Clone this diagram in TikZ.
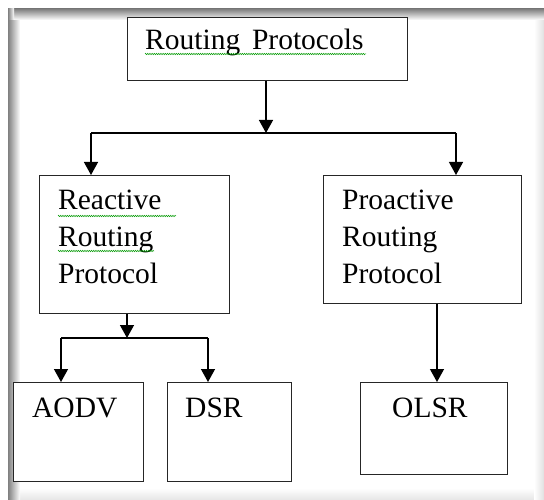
\documentclass[tikz,border=0pt]{standalone}
\usepackage{fontspec}
\setmainfont{Liberation Serif}
\newfontfamily\boxfont{Liberation Serif}
\usetikzlibrary{arrows.meta,decorations.pathmorphing}
\begin{document}
\begin{tikzpicture}[x=1pt,y=-1pt,
  box/.style={draw=black!85, line width=1.2pt, fill=white, inner sep=0pt, anchor=north west},
  lbl/.style={anchor=base west, inner sep=0pt, font=\boxfont\fontsize{29.5}{34}\selectfont},
  link/.style={line width=1.3pt},
  arr/.style={link, -{Triangle[length=13pt,width=14pt]}},
  squiggle/.style={draw=green!60!black, line width=0.5pt, decorate,
    decoration={zigzag, segment length=2.2pt, amplitude=0.7pt}}]

\useasboundingbox (0,0) rectangle (544,500);

% page with soft shadow on its edges
\shade[top color=white, bottom color=black!10] (8,488) rectangle (544,500);
\shade[left color=white, right color=black!12] (534,9) rectangle (544,500);
\shade[left color=black!50, right color=white] (8,9) rectangle (20,500);
\shade[top color=black!50, bottom color=white] (14,9) rectangle (544,20);
\shade[left color=black!50, right color=white] (8,9) rectangle (14,20);

% boxes
\node[box, minimum width=280pt, minimum height=63pt]  (top)       at (127,17)  {};
\node[box, minimum width=190pt, minimum height=138pt] (reactive)  at (39,175)  {};
\node[box, minimum width=198pt, minimum height=128pt] (proactive) at (323,175) {};
\node[box, minimum width=130pt, minimum height=99pt]  (aodv)      at (13,382)  {};
\node[box, minimum width=124pt, minimum height=99pt]  (dsr)       at (167,382) {};
\node[box, minimum width=147pt, minimum height=92pt]  (olsr)      at (360,382) {};

% labels
\node[lbl] (tRP)  at (145,50)  {Routing\hspace{0.4em}Protocols};
\node[lbl] (r1)   at (58,210)  {Reactive};
\node[lbl] (r2)   at (58,247)  {Routing};
\node[lbl] (r3)   at (58,283)  {Protocol};
\node[lbl] (p1)   at (342,210) {Proactive};
\node[lbl] (p2)   at (342,247) {Routing};
\node[lbl] (p3)   at (342,283) {Protocol};
\node[lbl] (tA)   at (32,417)  {AODV};
\node[lbl] (tD)   at (185,417) {DSR};
\node[lbl] (tO)   at (392,417) {OLSR};

% spell-check underlines
\draw[squiggle] (tRP.base west) ++(0,4) -- ++(221,0);
\draw[squiggle] (r1.base west) ++(0,6) -- ++(118,0);
\draw[squiggle] (r2.base west) ++(0,4) -- ++(96,0);

% branching connectors
\coordinate (split) at (266,133);
\coordinate (sl) at (91,133);
\coordinate (sr) at (456,133);
\draw[arr] (top.south -| split) -- (split);
\draw[link] (sl) -- (sr);
\draw[arr] (sl) -- (sl |- reactive.north);
\draw[arr] (sr) -- (sr |- proactive.north);

\coordinate (rsplit) at (127,338);
\coordinate (ra) at (61,338);
\coordinate (rd) at (208,338);
\draw[arr] (rsplit |- reactive.south) -- (rsplit);
\draw[link] (ra) -- (rd);
\draw[arr] (ra) -- (ra |- aodv.north);
\draw[arr] (rd) -- (rd |- dsr.north);

\coordinate (pdrop) at (437,338);
\draw[arr] (pdrop |- proactive.south) -- (pdrop |- olsr.north);
\end{tikzpicture}
\end{document}
